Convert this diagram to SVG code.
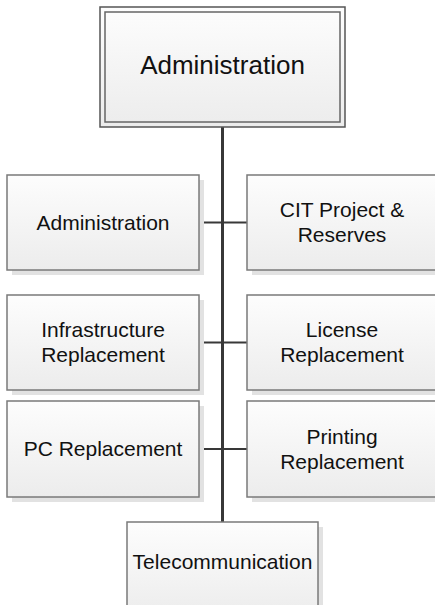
<svg xmlns="http://www.w3.org/2000/svg" width="435" height="605" viewBox="0 0 435 605">
<defs>
<linearGradient id="g" x1="0" y1="0" x2="0" y2="1">
<stop offset="0" stop-color="#fdfdfd"/>
<stop offset="1" stop-color="#ececec"/>
</linearGradient>
</defs>
<style>
.sh{fill:#e2e2e2;stroke:none}
.bx{fill:url(#g);stroke:#7a7a7a;stroke-width:1.5}
.t{font-family:"Liberation Sans",Arial,sans-serif;font-size:21px;fill:#111;text-anchor:middle}
.c{stroke:#383838;fill:none}
</style>
<rect width="435" height="605" fill="#ffffff"/>
<g id="connectors">
<line class="c" x1="222.5" y1="127" x2="222.5" y2="522" stroke-width="3"/>
<line class="c" x1="199" y1="222.5" x2="247" y2="222.5" stroke-width="2"/>
<line class="c" x1="199" y1="342.5" x2="247" y2="342.5" stroke-width="2"/>
<line class="c" x1="199" y1="449" x2="247" y2="449" stroke-width="2"/>
</g>
<g id="n-top">
<rect x="100" y="7" width="245" height="120" fill="url(#g)" stroke="#555" stroke-width="1.5"/>
<rect x="105" y="12" width="235" height="110" fill="none" stroke="#666" stroke-width="1.5"/>
<text x="222.5" y="74" class="t" style="font-size:26px">Administration</text>
</g>
<g id="n-admin">
<rect class="sh" x="12" y="180" width="192" height="95"/>
<rect class="bx" x="7" y="175" width="192" height="95"/>
<text x="103" y="230" class="t">Administration</text>
</g>
<g id="n-cit">
<rect class="sh" x="252" y="180" width="192" height="95"/>
<rect class="bx" x="247" y="175" width="192" height="95"/>
<text x="342" y="217" class="t">CIT Project &amp;</text>
<text x="342" y="242" class="t">Reserves</text>
</g>
<g id="n-infra">
<rect class="sh" x="12" y="300" width="192" height="95"/>
<rect class="bx" x="7" y="295" width="192" height="95"/>
<text x="103" y="337" class="t">Infrastructure</text>
<text x="103" y="362" class="t">Replacement</text>
</g>
<g id="n-license">
<rect class="sh" x="252" y="300" width="192" height="95"/>
<rect class="bx" x="247" y="295" width="192" height="95"/>
<text x="342" y="337" class="t">License</text>
<text x="342" y="362" class="t">Replacement</text>
</g>
<g id="n-pc">
<rect class="sh" x="12" y="406" width="192" height="96"/>
<rect class="bx" x="7" y="401" width="192" height="96"/>
<text x="103" y="456" class="t">PC Replacement</text>
</g>
<g id="n-printing">
<rect class="sh" x="252" y="406" width="192" height="96"/>
<rect class="bx" x="247" y="401" width="192" height="96"/>
<text x="342" y="444" class="t">Printing</text>
<text x="342" y="469" class="t">Replacement</text>
</g>
<g id="n-telecom">
<rect class="sh" x="132" y="527" width="191" height="95"/>
<rect class="bx" x="127" y="522" width="191" height="95"/>
<text x="222.5" y="569" class="t">Telecommunication</text>
</g>
</svg>
